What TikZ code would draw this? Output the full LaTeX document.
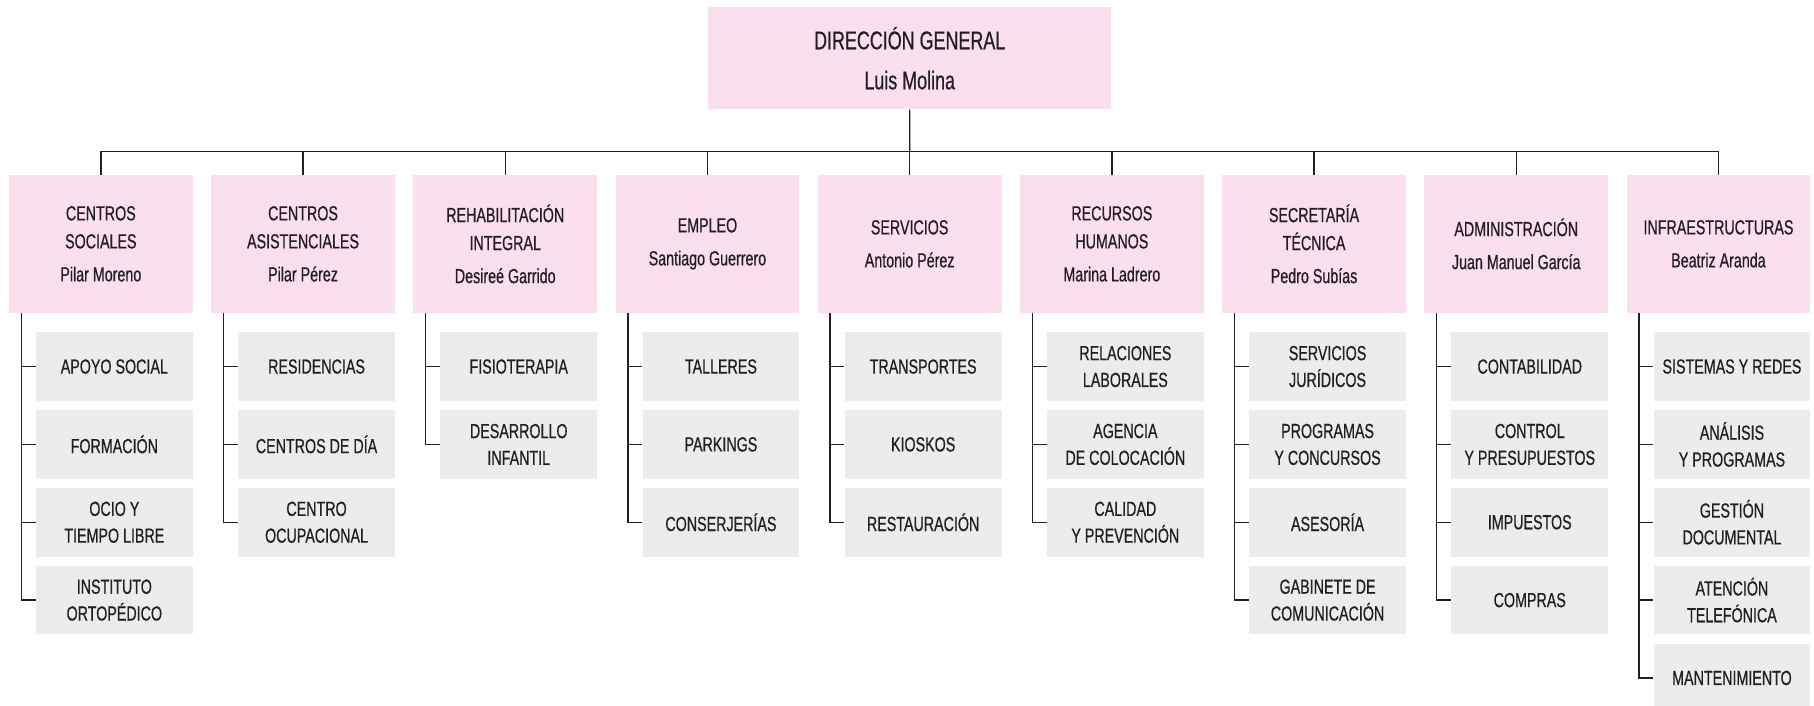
\documentclass[tikz,border=0pt]{standalone}
\usepackage{fontspec}
\setmainfont{Liberation Sans}[FakeStretch=0.7, FakeBold=0.6]
\definecolor{rosa}{HTML}{FAE0EE}
\definecolor{gris}{HTML}{ECECEC}
\definecolor{texto}{HTML}{231F20}
\tikzset{
  jefe/.style={fill=rosa, text=texto, minimum width=91.85pt, minimum height=68.85pt,
    inner sep=0pt, align=center, font=\fontsize{10.2}{14}\selectfont},
  area/.style={fill=gris, text=texto, minimum width=78.35pt, minimum height=34.25pt,
    inner sep=0pt, align=center, font=\fontsize{10.2}{13.4}\selectfont},
  linea/.style={draw=texto, line width=0.65pt},
}

\begin{document}
\begin{tikzpicture}[x=0.5pt, y=-0.5pt]
  \path[use as bounding box] (0,0) rectangle (1814,706);
  \clip (0,0) rectangle (1814,706);
  % direccion general
  \node[jefe, minimum width=201.7pt, minimum height=51pt, font=\fontsize{12.8}{20}\selectfont]
    (dg) at (909.7,58.3) {DIRECCIÓN GENERAL\\Luis Molina};
  % areas
  \node[jefe] (cs) at (100.85,243.85) {CENTROS\\SOCIALES\\[2.5pt]Pilar Moreno};
  \node[jefe] (ca) at (303.05,243.85) {CENTROS\\ASISTENCIALES\\[2.5pt]Pilar Pérez};
  \node[jefe] (ri) at (505.25,243.85) {REHABILITACIÓN\\INTEGRAL\\[2.5pt]Desireé Garrido};
  \node[jefe] (em) at (707.45,243.85) {EMPLEO\\[2.5pt]Santiago Guerrero};
  \node[jefe] (se) at (909.65,243.85) {SERVICIOS\\[2.5pt]Antonio Pérez};
  \node[jefe] (rh) at (1111.85,243.85) {RECURSOS\\HUMANOS\\[2.5pt]Marina Ladrero};
  \node[jefe] (st) at (1314.05,243.85) {SECRETARÍA\\TÉCNICA\\[2.5pt]Pedro Subías};
  \node[jefe] (ad) at (1516.25,243.85) {ADMINISTRACIÓN\\[2.5pt]Juan Manuel García};
  \node[jefe] (in) at (1718.45,243.85) {INFRAESTRUCTURAS\\[2.5pt]Beatriz Aranda};
  % bus
  \coordinate (bus) at (909.65,151.5);
  \draw[linea] (dg.south) -- (bus);
  \draw[linea] (cs.north) |- (bus) -| (in.north);
  \draw[linea] (ca.north) -- (ca.north |- bus) (ri.north) -- (ri.north |- bus)
    (em.north) -- (em.north |- bus) (se.north) -- (se.north |- bus)
    (rh.north) -- (rh.north |- bus) (st.north) -- (st.north |- bus)
    (ad.north) -- (ad.north |- bus);
  % centros sociales
  \node[area] (cs1) at (114.35,366.55) {APOYO SOCIAL};
  \node[area] (cs2) at (114.35,444.4) {FORMACIÓN};
  \node[area] (cs3) at (114.35,522.25) {OCIO Y\\TIEMPO LIBRE};
  \node[area] (cs4) at (114.35,600.1) {INSTITUTO\\ORTOPÉDICO};
  \draw[linea] ([xshift=6.35pt]cs.south west) |- (cs1.west)
    ([xshift=6.35pt]cs.south west) |- (cs2.west)
    ([xshift=6.35pt]cs.south west) |- (cs3.west)
    ([xshift=6.35pt]cs.south west) |- (cs4.west);
  % centros asistenciales
  \node[area] (ca1) at (316.55,366.55) {RESIDENCIAS};
  \node[area] (ca2) at (316.55,444.4) {CENTROS DE DÍA};
  \node[area] (ca3) at (316.55,522.25) {CENTRO\\OCUPACIONAL};
  \draw[linea] ([xshift=6.35pt]ca.south west) |- (ca1.west)
    ([xshift=6.35pt]ca.south west) |- (ca2.west)
    ([xshift=6.35pt]ca.south west) |- (ca3.west);
  % rehabilitacion
  \node[area] (ri1) at (518.75,366.55) {FISIOTERAPIA};
  \node[area] (ri2) at (518.75,444.4) {DESARROLLO\\INFANTIL};
  \draw[linea] ([xshift=6.35pt]ri.south west) |- (ri1.west)
    ([xshift=6.35pt]ri.south west) |- (ri2.west);
  % empleo
  \node[area] (em1) at (720.95,366.55) {TALLERES};
  \node[area] (em2) at (720.95,444.4) {PARKINGS};
  \node[area] (em3) at (720.95,522.25) {CONSERJERÍAS};
  \draw[linea] ([xshift=6.35pt]em.south west) |- (em1.west)
    ([xshift=6.35pt]em.south west) |- (em2.west)
    ([xshift=6.35pt]em.south west) |- (em3.west);
  % servicios
  \node[area] (se1) at (923.15,366.55) {TRANSPORTES};
  \node[area] (se2) at (923.15,444.4) {KIOSKOS};
  \node[area] (se3) at (923.15,522.25) {RESTAURACIÓN};
  \draw[linea] ([xshift=6.35pt]se.south west) |- (se1.west)
    ([xshift=6.35pt]se.south west) |- (se2.west)
    ([xshift=6.35pt]se.south west) |- (se3.west);
  % recursos humanos
  \node[area] (rh1) at (1125.35,366.55) {RELACIONES\\LABORALES};
  \node[area] (rh2) at (1125.35,444.4) {AGENCIA\\DE COLOCACIÓN};
  \node[area] (rh3) at (1125.35,522.25) {CALIDAD\\Y PREVENCIÓN};
  \draw[linea] ([xshift=6.35pt]rh.south west) |- (rh1.west)
    ([xshift=6.35pt]rh.south west) |- (rh2.west)
    ([xshift=6.35pt]rh.south west) |- (rh3.west);
  % secretaria tecnica
  \node[area] (st1) at (1327.55,366.55) {SERVICIOS\\JURÍDICOS};
  \node[area] (st2) at (1327.55,444.4) {PROGRAMAS\\Y CONCURSOS};
  \node[area] (st3) at (1327.55,522.25) {ASESORÍA};
  \node[area] (st4) at (1327.55,600.1) {GABINETE DE\\COMUNICACIÓN};
  \draw[linea] ([xshift=6.35pt]st.south west) |- (st1.west)
    ([xshift=6.35pt]st.south west) |- (st2.west)
    ([xshift=6.35pt]st.south west) |- (st3.west)
    ([xshift=6.35pt]st.south west) |- (st4.west);
  % administracion
  \node[area] (ad1) at (1529.75,366.55) {CONTABILIDAD};
  \node[area] (ad2) at (1529.75,444.4) {CONTROL\\Y PRESUPUESTOS};
  \node[area] (ad3) at (1529.75,522.25) {IMPUESTOS};
  \node[area] (ad4) at (1529.75,600.1) {COMPRAS};
  \draw[linea] ([xshift=6.35pt]ad.south west) |- (ad1.west)
    ([xshift=6.35pt]ad.south west) |- (ad2.west)
    ([xshift=6.35pt]ad.south west) |- (ad3.west)
    ([xshift=6.35pt]ad.south west) |- (ad4.west);
  % infraestructuras
  \node[area] (in1) at (1731.95,366.55) {SISTEMAS Y REDES};
  \node[area] (in2) at (1731.95,444.4) {ANÁLISIS\\Y PROGRAMAS};
  \node[area] (in3) at (1731.95,522.25) {GESTIÓN\\DOCUMENTAL};
  \node[area] (in4) at (1731.95,600.1) {ATENCIÓN\\TELEFÓNICA};
  \node[area] (in5) at (1731.95,677.95) {MANTENIMIENTO};
  \draw[linea] ([xshift=6.35pt]in.south west) |- (in1.west)
    ([xshift=6.35pt]in.south west) |- (in2.west)
    ([xshift=6.35pt]in.south west) |- (in3.west)
    ([xshift=6.35pt]in.south west) |- (in4.west)
    ([xshift=6.35pt]in.south west) |- (in5.west);
\end{tikzpicture}
\end{document}
